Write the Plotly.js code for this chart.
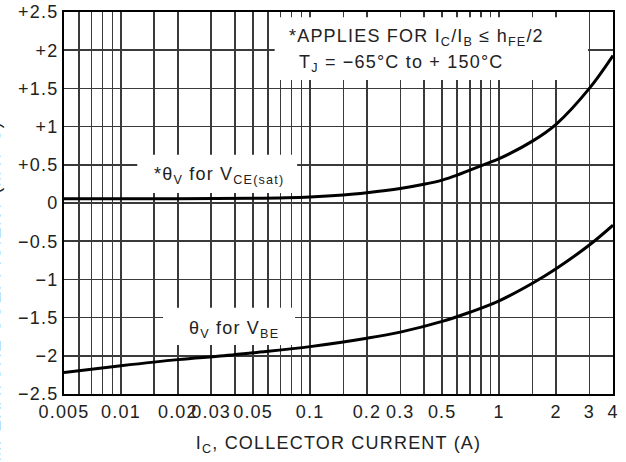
<!DOCTYPE html>
<html>
<head>
<meta charset="utf-8">
<script src="https://cdn.plot.ly/plotly-3.0.1.min.js"></script>
<style>
html,body{margin:0;padding:0;background:#fff;}
#chart{width:626px;height:462px;}
svg text{letter-spacing:1.2px;}
</style>
</head>
<body>
<div id="chart"></div>
<script>
// Collector current (A) and temperature coefficient (mV/°C)
const icVce = [0.005, 0.01, 0.02, 0.05, 0.1, 0.15, 0.2, 0.3, 0.4, 0.5, 0.6, 0.7, 0.8, 0.9, 1, 1.5, 2, 3, 4];
const thetaVce = [0.055, 0.055, 0.056, 0.062, 0.08, 0.105, 0.135, 0.19, 0.245, 0.30, 0.365, 0.43, 0.485, 0.535, 0.58, 0.81, 1.03, 1.5, 1.93];
const icVbe = [0.005, 0.01, 0.02, 0.035, 0.05, 0.1, 0.2, 0.3, 0.5, 0.7, 1, 1.5, 2, 3, 4];
const thetaVbe = [-2.22, -2.13, -2.05, -2.0, -1.96, -1.88, -1.77, -1.69, -1.55, -1.43, -1.28, -1.05, -0.86, -0.55, -0.29];

const xLabelVals = [0.005, 0.01, 0.02, 0.03, 0.05, 0.1, 0.2, 0.3, 0.5, 1, 2, 3, 4];
const xLabels = ['0.005', '0.01', '0.02', '0.03', '0.05', '0.1', '0.2', '0.3', '0.5', '1', '2', '3', '4'];
const xMinorGrid = [0.006, 0.007, 0.008, 0.009, 0.015, 0.04, 0.06, 0.07, 0.08, 0.09,
                    0.15, 0.4, 0.6, 0.7, 0.8, 0.9, 1.5];
const yTicks = [-2.5, -2, -1.5, -1, -0.5, 0, 0.5, 1, 1.5, 2, 2.5];
const yLabels = ['\u22122.5', '\u22122', '\u22121.5', '\u22121', '\u22120.5', '0', '+0.5', '+1', '+1.5', '+2', '+2.5'];

const FONT = '"Liberation Sans", Arial, Helvetica, sans-serif';
const TXT = '#222';
const GRID = '#3a3a3a';
const lineStyle = {color: '#000', width: 3, shape: 'spline', smoothing: 1};

const traces = [
  {x: icVce, y: thetaVce, mode: 'lines', line: lineStyle, hoverinfo: 'skip', showlegend: false},
  {x: icVbe, y: thetaVbe, mode: 'lines', line: lineStyle, hoverinfo: 'skip', showlegend: false}
];

function whiteBox(x0, x1, y0, y1) {
  return {type: 'rect', xref: 'x', yref: 'y', x0: x0, x1: x1, y0: y0, y1: y1,
          fillcolor: '#fff', line: {width: 0}, layer: 'between'};
}

const layout = {
  width: 626, height: 462,
  margin: {l: 64, r: 13, t: 12, b: 68},
  paper_bgcolor: '#fff', plot_bgcolor: '#fff',
  font: {family: FONT, color: TXT, size: 18},
  showlegend: false,
  xaxis: {
    type: 'log',
    range: [Math.log10(0.005), Math.log10(4)],
    tickmode: 'array', tickvals: xLabelVals, ticktext: xLabels, tickangle: 0,
    ticks: '', showgrid: true, gridcolor: GRID, gridwidth: 1.5,
    minor: {tickmode: 'array', tickvals: xMinorGrid, ticks: '', showgrid: true, gridcolor: GRID, gridwidth: 1.5},
    showline: true, linecolor: '#000', linewidth: 2, mirror: true,
    zeroline: false, automargin: false,
    tickfont: {size: 18, family: FONT, color: TXT},
    title: {text: 'I<sub>C</sub>, COLLECTOR CURRENT (A)', font: {size: 18, family: FONT, color: TXT}, standoff: 16}
  },
  yaxis: {
    range: [-2.5, 2.5],
    tickmode: 'array', tickvals: yTicks, ticktext: yLabels,
    ticks: '', showgrid: true, gridcolor: GRID, gridwidth: 1.5,
    showline: true, linecolor: '#000', linewidth: 2, mirror: true,
    zeroline: false, automargin: false,
    tickfont: {size: 18, family: FONT, color: TXT}
  },
  shapes: [
    whiteBox(0.065, 2.95, 1.61, 2.43),
    whiteBox(0.0122, 0.0855, 0.13, 0.63),
    whiteBox(0.0167, 0.0833, -1.86, -1.37)
  ],
  annotations: [
    {xref: 'paper', yref: 'paper', x: 0.406, y: 0.932, xanchor: 'left', yanchor: 'middle', showarrow: false,
     text: '*APPLIES FOR I<sub>C</sub>/I<sub>B</sub> \u2264 h<sub>FE</sub>/2', font: {size: 18, family: FONT, color: TXT}},
    {xref: 'paper', yref: 'paper', x: 0.424, y: 0.866, xanchor: 'left', yanchor: 'middle', showarrow: false,
     text: 'T<sub>J</sub> = \u221265\u00b0C to + 150\u00b0C', font: {size: 18, family: FONT, color: TXT}},
    {xref: 'paper', yref: 'paper', x: 0.282, y: 0.571, xanchor: 'center', yanchor: 'middle', showarrow: false,
     text: '*\u03b8<sub>V</sub> for V<sub>CE(sat)</sub>', font: {size: 18, family: FONT, color: TXT}},
    {xref: 'paper', yref: 'paper', x: 0.310, y: 0.168, xanchor: 'center', yanchor: 'middle', showarrow: false,
     text: '\u03b8<sub>V</sub> for V<sub>BE</sub>', font: {size: 18, family: FONT, color: TXT}},
    {xref: 'paper', yref: 'paper', x: -0.124, y: 0.194, xanchor: 'center', yanchor: 'middle', showarrow: false, textangle: -90,
     text: '\u03b8<sub>V</sub>, TEMPERATURE COEFFICIENT (mV/\u00b0C)', font: {size: 18, family: FONT, color: TXT}}
  ]
};

Plotly.newPlot('chart', traces, layout, {staticPlot: true, displayModeBar: false});
</script>
</body>
</html>
